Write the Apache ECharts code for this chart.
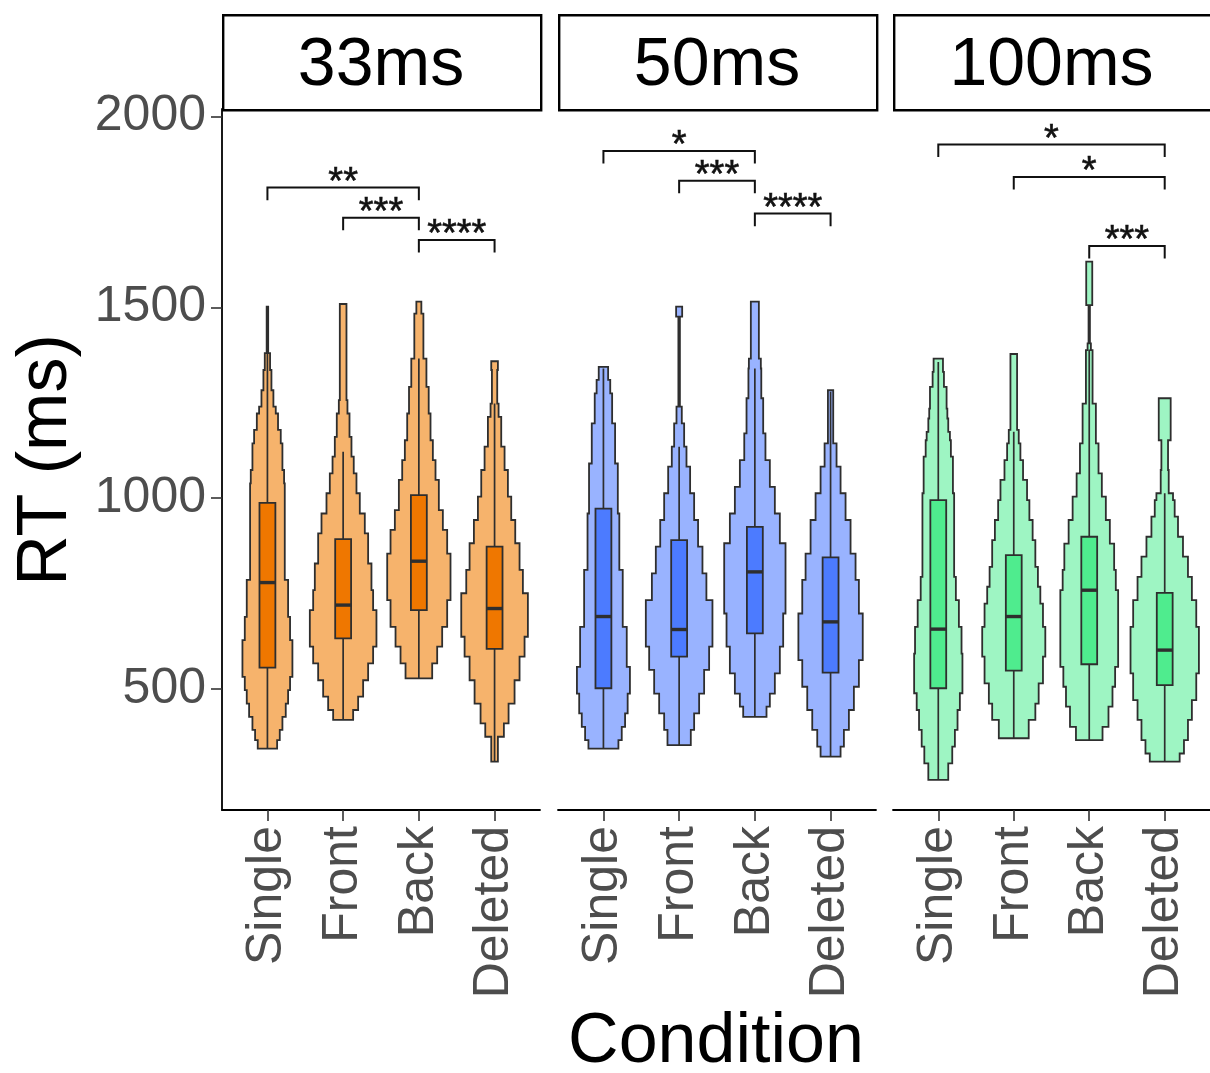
<!DOCTYPE html>
<html>
<head>
<meta charset="utf-8">
<script src="https://cdn.jsdelivr.net/npm/echarts@6/dist/echarts.min.js"></script>
<style>
  html, body { margin: 0; padding: 0; background: #ffffff; }
  #chart { width: 1210px; height: 1073px; }
</style>
</head>
<body>
<div id="chart"></div>
<script>
// ---- data -------------------------------------------------------------
const conditions = ['Single', 'Front', 'Back', 'Deleted'];
const durations = ['33ms', '50ms', '100ms'];
const yTicks = [500, 1000, 1500, 2000];

// box statistics per condition: [lower whisker, Q1, median, Q3, upper whisker] (ms)
const box33  = [[344, 556, 779, 988, 1502], [419, 633, 720, 893, 1122], [528, 707, 835, 1008, 1366], [310, 605, 711, 873, 1248]];
const box50  = [[344, 502, 690, 973, 1340], [353, 585, 656, 890, 1135], [427, 646, 807, 925, 1340], [323, 543, 676, 845, 1279]];
const box100 = [[262, 502, 657, 995, 1357], [371, 548, 690, 851, 1174], [366, 565, 759, 899, 1390], [310, 510, 602, 752, 1013]];

// violin density outlines, top to bottom: [RT where the step starts, half-width in % of a category step]
const violin33 = [
  [[1502, 1.0], [1380, 3.5], [1336, 5.3], [1283, 7.9], [1240, 11], [1222, 14], [1179, 17.6], [1144, 19.8], [1074, 22], [1039, 22.9], [786, 27.3], [689, 29.9], [628, 33], [532, 29.9], [497, 27.3], [462, 24.2], [427, 19.8], [393, 16.3], [366, 12.8], [344, 0]],
  [[1509, 4.4], [1257, 5.7], [1222, 8.4], [1161, 11], [1109, 14], [1065, 17.6], [1013, 22], [960, 28.6], [908, 33], [829, 37.4], [759, 39.6], [707, 44], [611, 39.6], [567, 33], [523, 26.4], [480, 19.8], [445, 13.2], [419, 0]],
  [[1515, 3.3], [1484, 6], [1366, 10], [1292, 13], [1222, 15.4], [1152, 18.5], [1100, 22], [1048, 26.4], [969, 31.7], [917, 37.4], [855, 41.8], [733, 37.4], [663, 30.8], [611, 24.2], [567, 17.6], [528, 0]],
  [[1359, 4.4], [1336, 3.5], [1248, 5.3], [1213, 8.8], [1135, 13.2], [1074, 17.6], [1004, 22], [943, 27.3], [882, 33], [812, 37.4], [751, 44], [637, 39.6], [585, 33], [523, 26.4], [462, 18.5], [410, 12.3], [375, 4.4], [310, 0]]
];
const violin50 = [
  [[1344, 6.2], [1310, 9], [1275, 11.5], [1196, 15.4], [1091, 19], [960, 21], [812, 25.5], [663, 30.8], [558, 35], [488, 32], [436, 28.6], [401, 24.2], [366, 19.8], [344, 0]],
  [[1502, 4], [1476, 1], [1240, 3.5], [1196, 6.6], [1135, 9.7], [1083, 14.5], [1013, 19.8], [943, 25], [873, 30.8], [803, 36], [733, 44], [611, 39.6], [550, 33], [488, 26.4], [436, 19.8], [393, 15.4], [353, 0]],
  [[1515, 5.3], [1366, 7.9], [1340, 8.5], [1262, 11], [1170, 14], [1100, 19.8], [1030, 26.4], [960, 33], [882, 40.5], [698, 37.4], [611, 33], [541, 26.4], [488, 19.8], [454, 15.4], [427, 0]],
  [[1283, 3.5], [1144, 7.9], [1083, 13.2], [1013, 19.8], [943, 26.4], [855, 33], [786, 37.4], [698, 42.5], [576, 37.4], [506, 30.8], [445, 24.2], [393, 17.6], [349, 13.2], [323, 0]]
];
const violin100 = [
  [[1366, 6.2], [1331, 7.5], [1292, 11], [1235, 12], [1209, 13.2], [1174, 15.4], [1152, 16.7], [1109, 19.4], [1013, 21], [794, 23.3], [733, 27.3], [663, 30.8], [593, 32], [489, 28.6], [445, 25.5], [393, 22], [349, 18.5], [305, 13.2], [262, 0]],
  [[1378, 4.4], [1179, 6.6], [1144, 8.8], [1100, 12.3], [1048, 17.6], [995, 20.7], [943, 25], [890, 28.6], [820, 32], [768, 35.2], [724, 38.7], [663, 41.8], [585, 38.7], [515, 33], [462, 28.6], [419, 19.8], [371, 0]],
  [[1620, 4], [1506, 0.9], [1406, 2.2], [1388, 4.4], [1248, 8.8], [1144, 12.3], [1065, 16.7], [1004, 22], [943, 27.3], [881, 33], [812, 35.2], [759, 38.3], [558, 34.3], [506, 30.8], [454, 25.5], [401, 17.6], [366, 0]],
  [[1262, 7.9], [1152, 4.4], [1074, 5.3], [1013, 11], [995, 13.2], [952, 17.6], [899, 24.2], [847, 30.8], [794, 36], [733, 41.8], [663, 45.3], [541, 41.8], [471, 36], [419, 30.8], [366, 25.5], [331, 19.8], [310, 0]]
];

// pairwise comparisons: [from condition, to condition, bracket height (ms)]
const brackets33  = [[1, 3, 1814], [2, 3, 1735], [3, 4, 1677]];
const brackets50  = [[1, 3, 1910], [2, 3, 1832], [3, 4, 1746]];
const brackets100 = [[1, 4, 1927], [2, 4, 1842], [3, 4, 1661]];
const stars33  = ['**', '***', '****'];
const stars50  = ['*', '***', '****'];
const stars100 = ['*', '*', '***'];

// ---- layout & style ---------------------------------------------------
const FONT = '"Liberation Sans", Arial, sans-serif';
const panelLeft = [222, 558, 893];
const panelWidth = [318, 318, 317];
const PLOT_TOP = 109, PLOT_H = 701;
const Y_MIN = 183, Y_MAX = 2020;
const BOX_HALF = 0.105;
const TIP = 33;
const violinFill = ['#F6B36C', '#99B3FF', '#9EF5C3'];
const boxFill = ['#EF7700', '#4C7BFF', '#4FEC8E'];
const OUTLINE = '#2e2e2e';

const panels = [
  { violins: violin33, boxes: box33, brackets: brackets33, stars: stars33 },
  { violins: violin50, boxes: box50, brackets: brackets50, stars: stars50 },
  { violins: violin100, boxes: box100, brackets: brackets100, stars: stars100 }
];

function violinRenderer(profiles, fill) {
  return function (params, api) {
    const prof = profiles[params.dataIndex];
    const cx = api.value(0);
    const right = [], left = [];
    for (let i = 0; i < prof.length - 1; i++) {
      const w = prof[i][1] / 100;
      const top = prof[i][0], bot = prof[i + 1][0];
      right.push(api.coord([cx + w, top]), api.coord([cx + w, bot]));
      left.push(api.coord([cx - w, top]), api.coord([cx - w, bot]));
    }
    return {
      type: 'polygon',
      shape: { points: right.concat(left.reverse()) },
      style: { fill: fill, stroke: OUTLINE, lineWidth: 1.8, lineJoin: 'miter' }
    };
  };
}

function boxRenderer(fill) {
  return function (params, api) {
    const x = api.value(0);
    const lo = api.coord([x, api.value(1)]);
    const hi = api.coord([x, api.value(5)]);
    const q1 = api.coord([x - BOX_HALF, api.value(2)]);
    const q3 = api.coord([x + BOX_HALF, api.value(4)]);
    const mL = api.coord([x - BOX_HALF, api.value(3)]);
    const mR = api.coord([x + BOX_HALF, api.value(3)]);
    return {
      type: 'group',
      children: [
        { type: 'line', shape: { x1: lo[0], y1: lo[1], x2: hi[0], y2: hi[1] }, style: { stroke: OUTLINE, lineWidth: 1.7 } },
        { type: 'rect', shape: { x: q1[0], y: q3[1], width: q3[0] - q1[0], height: q1[1] - q3[1] }, style: { fill: fill, stroke: OUTLINE, lineWidth: 1.8 } },
        { type: 'line', shape: { x1: mL[0], y1: mL[1], x2: mR[0], y2: mR[1] }, style: { stroke: OUTLINE, lineWidth: 3.4 } }
      ]
    };
  };
}

function bracketRenderer(labels) {
  return function (params, api) {
    const x1 = api.value(0), x2 = api.value(1), y = api.value(2);
    const a = api.coord([x1, y - TIP]), b = api.coord([x1, y]);
    const c = api.coord([x2, y]), d = api.coord([x2, y - TIP]);
    return {
      type: 'group',
      children: [
        { type: 'polyline', shape: { points: [a, b, c, d] }, style: { stroke: '#111', lineWidth: 2, fill: null } },
        { type: 'text', x: (b[0] + c[0]) / 2, y: b[1] - 4,
          style: { text: labels[params.dataIndex], font: '38px ' + FONT, fill: '#111', stroke: '#111', lineWidth: 0.6, align: 'center', verticalAlign: 'middle' } }
      ]
    };
  };
}

const grid = [], xAxis = [], yAxis = [], series = [], graphic = [];

panels.forEach(function (p, i) {
  grid.push({ left: panelLeft[i], top: PLOT_TOP, width: panelWidth[i], height: PLOT_H, containLabel: false });
  xAxis.push({
    type: 'value', gridIndex: i, min: 0.4, max: 4.6,
    splitLine: { show: false },
    axisLine: { show: true, onZero: false, lineStyle: { color: '#000', width: 1.8 } },
    axisTick: { show: true, customValues: [1, 2, 3, 4], length: 11, lineStyle: { color: '#333', width: 1.6 } },
    axisLabel: {
      customValues: [1, 2, 3, 4], rotate: 90, margin: 16,
      formatter: function (v) { return conditions[Math.round(v) - 1]; },
      fontFamily: FONT, fontSize: 50, color: '#4D4D4D'
    }
  });
  yAxis.push({
    type: 'value', gridIndex: i, min: Y_MIN, max: Y_MAX,
    splitLine: { show: false },
    axisLine: { show: i === 0, lineStyle: { color: '#000', width: 1.8 } },
    axisTick: { show: i === 0, customValues: yTicks, length: 11, lineStyle: { color: '#333', width: 1.6 } },
    axisLabel: {
      show: i === 0, customValues: yTicks, margin: 16,
      formatter: function (v) { return String(v); },
      fontFamily: FONT, fontSize: 50, color: '#4D4D4D'
    }
  });

  series.push({
    type: 'custom', xAxisIndex: i, yAxisIndex: i, z: 2,
    data: p.violins.map(function (v, k) { return [k + 1, v[0][0]]; }),
    renderItem: violinRenderer(p.violins, violinFill[i])
  });
  series.push({
    type: 'custom', xAxisIndex: i, yAxisIndex: i, z: 3,
    data: p.boxes.map(function (b, k) { return [k + 1].concat(b); }),
    renderItem: boxRenderer(boxFill[i])
  });
  series.push({
    type: 'custom', xAxisIndex: i, yAxisIndex: i, z: 4,
    data: p.brackets.map(function (b) { return b.slice(); }),
    renderItem: bracketRenderer(p.stars)
  });

  // facet strip
  graphic.push({
    type: 'rect', left: panelLeft[i], top: 14,
    shape: { width: panelWidth[i], height: 95 },
    style: { fill: '#ffffff', stroke: '#000', lineWidth: 2.4 }
  });
  graphic.push({
    type: 'text', x: panelLeft[i] + panelWidth[i] / 2, y: 66,
    style: { text: durations[i], font: '68px ' + FONT, fill: '#000', align: 'center', verticalAlign: 'middle' }
  });
});

graphic.push({
  type: 'text', x: 47, y: 460, rotation: Math.PI / 2,
  style: { text: 'RT (ms)', font: '70px ' + FONT, fill: '#000', align: 'center', verticalAlign: 'middle' }
});
graphic.push({
  type: 'text', x: 716, y: 1043,
  style: { text: 'Condition', font: '70px ' + FONT, fill: '#000', align: 'center', verticalAlign: 'middle' }
});

const chart = echarts.init(document.getElementById('chart'), null, { renderer: 'canvas' });
chart.setOption({
  animation: false,
  backgroundColor: '#ffffff',
  grid: grid,
  xAxis: xAxis,
  yAxis: yAxis,
  series: series,
  graphic: graphic
});
</script>
</body>
</html>
